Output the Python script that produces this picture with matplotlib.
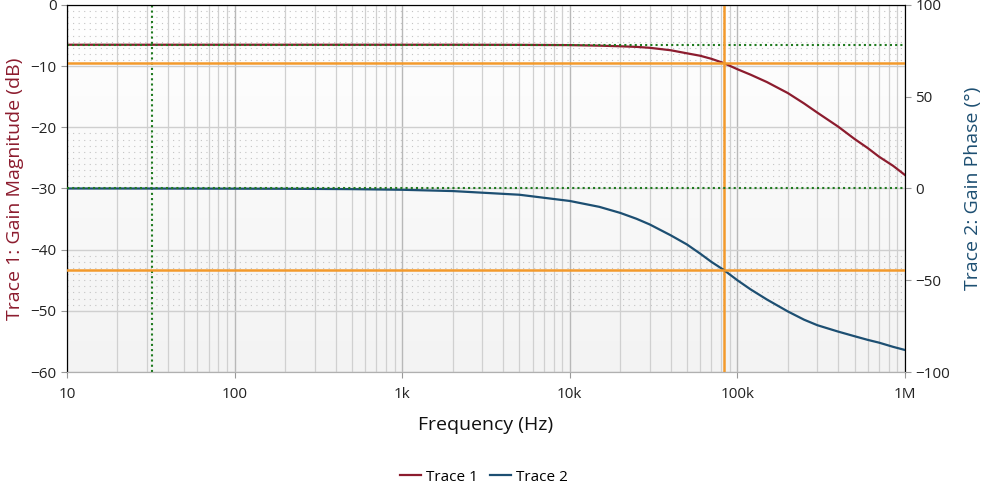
import numpy as np
import matplotlib.pyplot as plt
from matplotlib.ticker import FixedLocator, NullFormatter

plt.rcParams['font.family'] = ['Open Sans', 'DejaVu Sans']

# data
freq = [10, 20, 50, 100, 200, 500, 1e3, 2e3, 5e3, 1e4, 1.5e4, 2e4, 2.5e4, 3e4, 4e4,
        5e4, 6e4, 7e4, 8.3e4, 1e5, 1.2e5, 1.5e5, 2e5, 2.5e5, 3e5, 4e5, 5e5, 6e5,
        7e5, 8.5e5, 1e6]
mag_db = [-6.5, -6.5, -6.5, -6.5, -6.5, -6.5, -6.5, -6.5, -6.52, -6.56, -6.65, -6.75,
          -6.85, -7.0, -7.4, -7.9, -8.3, -8.8, -9.5, -10.5, -11.4, -12.6, -14.4,
          -16.1, -17.6, -19.9, -21.9, -23.4, -24.8, -26.3, -27.8]
phase_deg = [0, 0, -0.05, -0.1, -0.15, -0.35, -0.7, -1.4, -3.4, -6.8, -10, -13.3,
             -16.5, -19.6, -25.5, -30.5, -35.5, -40, -44.4, -50, -55, -60.5, -67,
             -71.5, -74.5, -78, -80.5, -82.5, -84, -86.3, -88]

ref_freq = 32          # green dotted cursor
ref_mag = -6.5
ref_phase = 0
cur_freq = 83000       # orange cursor
cur_mag = -9.5
cur_phase = -44.4

red = '#8c1c2e'
blue = '#1d4f72'
green = '#1f7a1f'
orange = '#f39a2c'

fig = plt.figure(figsize=(9.87, 4.84), dpi=100)
ax = fig.add_axes([0.0679, 0.2314, 0.8490, 0.7583])
ax2 = ax.twinx()

ax.set_xscale('log')
ax.set_xlim(10, 1e6)
ax.set_ylim(-60, 0)
ax2.set_ylim(-100, 100)

# background gradient
grad = np.linspace(0, 1, 256).reshape(-1, 1)
ax.imshow(grad, extent=[0, 1, 0, 1], transform=ax.transAxes, aspect='auto',
          cmap=plt.matplotlib.colors.LinearSegmentedColormap.from_list('bg', ['#f3f3f3', '#ffffff']),
          origin='lower', zorder=0)

# dotted bands
for top in [0, -20, -40]:
    for k in range(1, 10):
        ax.axhline(top - k, color='#c4c4c4', lw=0.8, ls=(0, (1, 4)), zorder=1)

ax.xaxis.set_major_locator(FixedLocator([10, 100, 1e3, 1e4, 1e5, 1e6]))
ax.set_xticklabels(['10', '100', '1k', '10k', '100k', '1M'])
minors = [m * 10 ** d for d in range(1, 6) for m in range(2, 10)]
ax.xaxis.set_minor_locator(FixedLocator(minors))
ax.xaxis.set_minor_formatter(NullFormatter())
ax.set_yticks(range(-60, 1, 10))
ax2.set_yticks([-100, -50, 0, 50, 100])

ax.grid(True, which='major', axis='x', color='#b8b8b8', lw=1, zorder=1)
ax.grid(True, which='minor', axis='x', color='#d0d0d0', lw=0.9, zorder=1)
ax.grid(True, which='major', axis='y', color='#cfcfcf', lw=1, zorder=1)

ax.plot(freq, mag_db, color=red, lw=1.6, zorder=3, label='Trace 1')
ax2.plot(freq, phase_deg, color=blue, lw=1.6, zorder=3, label='Trace 2')

# reference cursors (green) and measurement cursors (orange)
ax.axvline(ref_freq, color=green, lw=1.5, ls=(0, (1, 1.5)), zorder=4)
ax.axhline(ref_mag, color=green, lw=1.5, ls=(0, (1, 1.5)), zorder=4)
ax2.axhline(ref_phase, color=green, lw=1.5, ls=(0, (1, 1.5)), zorder=4)
ax.axvline(cur_freq, color=orange, lw=1.8, zorder=4)
ax.axhline(cur_mag, color=orange, lw=1.8, zorder=4)
ax2.axhline(cur_phase, color=orange, lw=1.8, zorder=4)

for a in (ax, ax2):
    a.spines['top'].set_color('black')
    a.spines['left'].set_color('black')
    a.spines['right'].set_color('black')
    a.spines['bottom'].set_color('#b0b0b0')
    a.tick_params(colors='#999999', labelcolor='#222222', labelsize=11, length=4)
ax.tick_params(axis='x', which='minor', length=0)
ax.tick_params(axis='x', pad=7)
ax2.set_zorder(ax.get_zorder() + 1)

ax.set_xlabel('Frequency (Hz)', fontsize=14, color='#111111', labelpad=10)
ax.set_ylabel('Trace 1: Gain Magnitude (dB)', fontsize=14, color=red, labelpad=5)
ax2.set_ylabel('Trace 2: Gain Phase (°)', fontsize=14, color=blue, labelpad=10)

h1, l1 = ax.get_legend_handles_labels()
h2, l2 = ax2.get_legend_handles_labels()
fig.legend(h1 + h2, l1 + l2, loc='lower center', bbox_to_anchor=(0.49, -0.03), ncol=2,
           frameon=False, fontsize=11, handlelength=1.4, handletextpad=0.3, columnspacing=0.8)

fig.savefig('out.png', dpi=100)
